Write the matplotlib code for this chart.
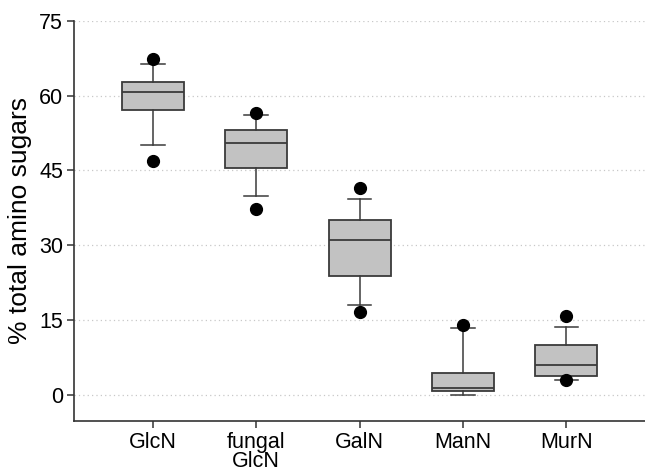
import numpy as np
import matplotlib
matplotlib.use("Agg")
import matplotlib.pyplot as plt

plt.rcParams['font.family'] = ['Liberation Sans', 'DejaVu Sans']

# amino sugar groups and box statistics (% of total)
categories = ['GlcN', 'fungal\nGlcN', 'GalN', 'ManN', 'MurN']
q1 = [57.1, 45.4, 23.9, 0.8, 3.9]
median = [60.8, 50.5, 31.1, 1.5, 6.0]
q3 = [62.8, 53.2, 35.0, 4.4, 10.0]
whisker_low = [50.2, 39.9, 18.1, 0.0, 3.1]
whisker_high = [66.3, 56.1, 39.3, 13.4, 13.7]
outliers = [[67.4, 46.9], [56.5, 37.2], [41.5, 16.6], [14.1], [15.8, 3.0]]

yticks = [0, 15, 30, 45, 60, 75]

stats = []
for i in range(len(categories)):
    stats.append({
        'label': categories[i],
        'q1': q1[i], 'med': median[i], 'q3': q3[i],
        'whislo': whisker_low[i], 'whishi': whisker_high[i],
        'fliers': outliers[i],
    })

fig = plt.figure(figsize=(6.45, 4.72), dpi=100)
ax = fig.add_axes([0.115, 0.108, 0.885, 0.848])

edge = '#3a3a3a'
ax.bxp(stats, positions=np.arange(1, 6), widths=0.6, patch_artist=True,
       capwidths=0.23,
       boxprops=dict(facecolor='#c2c2c2', edgecolor=edge, linewidth=1.3),
       medianprops=dict(color=edge, linewidth=1.3),
       whiskerprops=dict(color=edge, linewidth=1.1),
       capprops=dict(color=edge, linewidth=1.1),
       flierprops=dict(marker='o', markerfacecolor='black', markeredgecolor='black',
                       markersize=8.5),
       zorder=3)

ax.set_xlim(0.24, 5.76)
ax.set_ylim(-5.2, 75)
ax.set_yticks(yticks)
ax.yaxis.grid(True, linestyle=(0, (1, 2.5)), color='#c8c8c8', linewidth=0.9)
ax.set_axisbelow(True)

for s in ['top', 'right']:
    ax.spines[s].set_visible(False)
for s in ['left', 'bottom']:
    ax.spines[s].set_color('#333333')
    ax.spines[s].set_linewidth(1.2)
ax.spines['left'].set_bounds(-5.2, 75)

ax.tick_params(axis='both', labelsize=15.5, color='#333333', length=5, width=1.1)
ax.tick_params(axis='y', pad=3)
ax.tick_params(axis='x', pad=3)
for lbl in ax.get_xticklabels():
    lbl.set_linespacing(0.85)
ax.set_ylabel('% total amino sugars', fontsize=19, labelpad=5)

fig.savefig('out.png', dpi=100)
